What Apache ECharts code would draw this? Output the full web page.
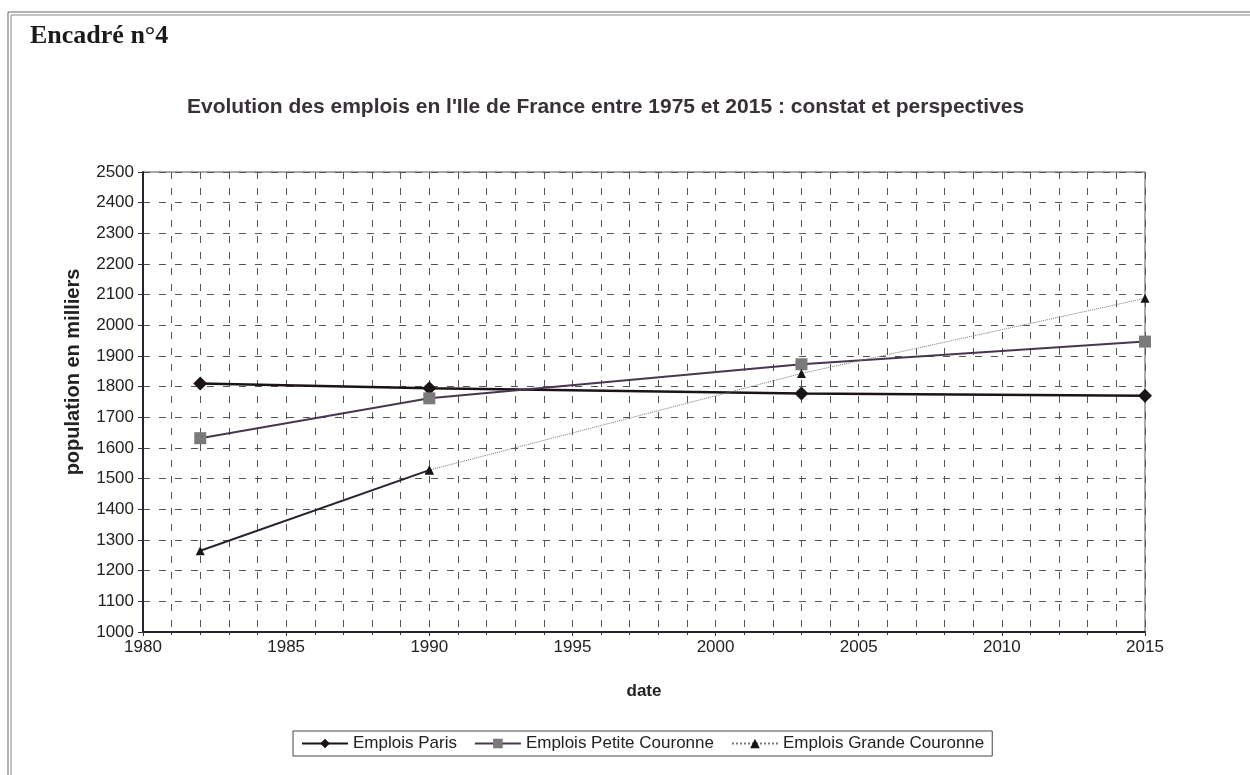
<!DOCTYPE html>
<html>
<head>
<meta charset="utf-8">
<script src="https://cdn.jsdelivr.net/npm/echarts@6/dist/echarts.min.js"></script>
<style>
html,body{margin:0;padding:0;background:#fff;}
#chart{width:1250px;height:775px;}
</style>
</head>
<body>
<div id="chart"></div>
<script>
const years = [1982, 1990, 2003, 2015];
const emploisParis = [1810, 1795, 1778, 1770];
const emploisPetiteCouronne = [1632, 1762, 1873, 1947];
const emploisGrandeCouronne = [1265, 1528, 1843, 2088];
const observedCount = 2; // Grande Couronne: first two points solid, the rest dotted (projection)

const pairs = (xs, ys) => xs.map((x, i) => [x, ys[i]]);
const grandeAll = pairs(years, emploisGrandeCouronne);

const chart = echarts.init(document.getElementById('chart'));
const font = '"Liberation Sans", Arial, sans-serif';
chart.setOption({
  animation: false,
  backgroundColor: '#fff',
  textStyle: { fontFamily: font },
  title: {
    text: "Evolution des emplois en l'Ile de France entre 1975 et 2015 : constat et perspectives",
    left: 182, top: 92,
    textStyle: { fontFamily: font, fontSize: 21, fontWeight: 'bold', color: '#3a3038' }
  },
  graphic: [
    { type: 'rect', shape: { x: 8, y: 12, width: 1300, height: 800 }, style: { fill: 'none', stroke: '#666', lineWidth: 1 }, silent: true },
    { type: 'rect', shape: { x: 11, y: 15, width: 1300, height: 800 }, style: { fill: 'none', stroke: '#888', lineWidth: 1 }, silent: true },
    { type: 'text', left: 30, top: 23, style: { text: 'Encadré n°4', font: 'bold 26px "Liberation Serif", "Times New Roman", serif', fill: '#1a1a1a' } }
  ],
  grid: { left: 143, right: 105, top: 172, bottom: 143, show: true, borderColor: '#555', borderWidth: 1 },
  legend: {
    data: ['Emplois Paris', 'Emplois Petite Couronne', 'Emplois Grande Couronne'],
    left: 293, top: 731,
    padding: [4, 8],
    itemGap: 17,
    itemWidth: 46, itemHeight: 12,
    borderColor: '#444', borderWidth: 1,
    textStyle: { fontFamily: font, fontSize: 17, color: '#222' }
  },
  xAxis: {
    type: 'value', min: 1980, max: 2015, interval: 5,
    name: 'date', nameLocation: 'middle', nameGap: 51,
    nameTextStyle: { fontFamily: font, fontSize: 17, fontWeight: 'bold', color: '#222' },
    axisLine: { show: true, onZero: false, lineStyle: { color: '#2a2030', width: 2 } },
    axisTick: { show: true, length: 4, lineStyle: { color: '#333' } },
    minorTick: { show: true, splitNumber: 5, length: 3, lineStyle: { color: '#333' } },
    axisLabel: { fontFamily: font, fontSize: 17, color: '#222', margin: 7, formatter: v => String(v) },
    splitLine: { show: true, lineStyle: { color: '#555', type: [7, 9], width: 1 } },
    minorSplitLine: { show: true, lineStyle: { color: '#555', type: [7, 9], width: 1 } }
  },
  yAxis: {
    type: 'value', min: 1000, max: 2500, interval: 100,
    name: 'population en milliers', nameLocation: 'middle', nameGap: 60,
    nameTextStyle: { fontFamily: font, fontSize: 20, fontWeight: 'bold', color: '#222', padding: [0, 0, 0, 60] },
    axisLine: { show: true, onZero: false, lineStyle: { color: '#2a2030', width: 2 } },
    axisTick: { show: true, length: 5, lineStyle: { color: '#333' } },
    axisLabel: { fontFamily: font, fontSize: 17, color: '#222', margin: 9, formatter: v => String(v) },
    splitLine: { show: true, lineStyle: { color: '#555', type: [7, 9], width: 1 } }
  },
  series: [
    {
      name: 'Emplois Paris', type: 'line',
      data: pairs(years, emploisParis),
      symbol: 'diamond', symbolSize: 14,
      lineStyle: { color: '#1a1418', width: 2.5 },
      itemStyle: { color: '#1a1418' }
    },
    {
      name: 'Emplois Petite Couronne', type: 'line',
      data: pairs(years, emploisPetiteCouronne),
      symbol: 'rect', symbolSize: 12,
      lineStyle: { color: '#4a3550', width: 2 },
      itemStyle: { color: '#7a7a7a' }
    },
    {
      name: 'Emplois Grande Couronne (observé)', type: 'line',
      data: grandeAll.slice(0, observedCount),
      symbol: 'triangle', symbolSize: 9,
      lineStyle: { color: '#2a2030', width: 2 },
      itemStyle: { color: '#1a1418' }
    },
    {
      name: 'Emplois Grande Couronne', type: 'line',
      data: grandeAll.slice(observedCount - 1),
      symbol: 'triangle', symbolSize: 9,
      lineStyle: { color: '#777', width: 1, type: 'dotted' },
      itemStyle: { color: '#1a1418' }
    }
  ]
});
</script>
</body>
</html>
